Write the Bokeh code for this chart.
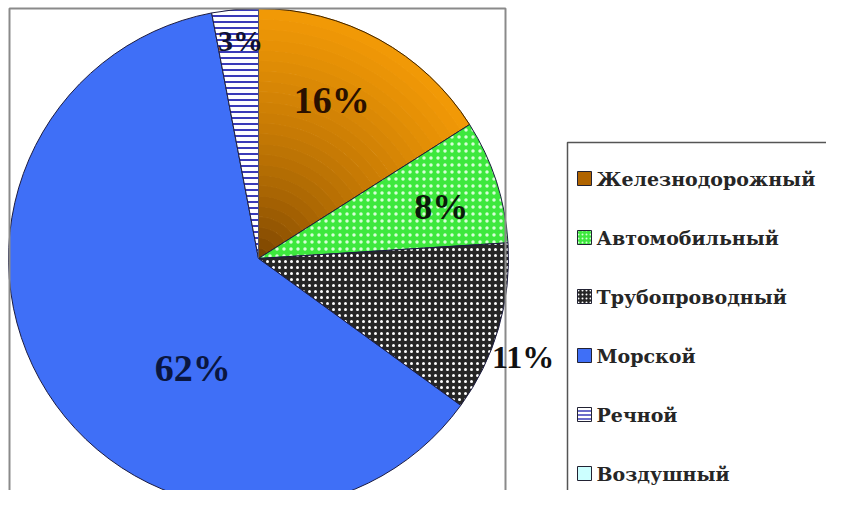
import numpy as np
from bokeh.plotting import figure
from bokeh.models import Range1d
from bokeh.embed import file_html
from bokeh.resources import INLINE
from bokeh.core.properties import value

# ---- data ----
categories = ["Железнодорожный", "Автомобильный", "Трубопроводный", "Морской", "Речной", "Воздушный"]
shares = [16, 8, 11, 62, 3, 0]
pct_labels = ["16%", "8%", "11%", "62%", "3%", ""]

# ---- styles ----
fill_colors = ["#E08A00", "#3DE83D", "#262626", "#3F6FF7", "#FFFFFF", "#CCFFFF"]
hatch_patterns = [" ", "dot", "dot", " ", "horizontal_line", " "]
hatch_colors = ["#000000", "#D6FFD6", "#FFFFFF", "#000000", "#3A3AB8", "#000000"]
hatch_scales = [6, 7, 6, 6, 6, 6]
hatch_weights = [1, 4, 2.5, 1, 2, 1]
label_colors = ["#2A1000", "#0A1A0A", "#111111", "#0A1640", "#101030", "#000000"]
label_sizes = ["38px", "36px", "32px", "38px", "30px", "30px"]
# label placement: radius factor and angle offset (deg) relative to slice middle
label_rf = [0.70, 0.76, 1.13, 0.51, 0.875, 0.0]
label_doff = [-4.1, 2.2, 4.3, -26.6, 0.7, 0.0]

W, H = 826, 490
CX, CY, R = 258, 232, 250
FONT = value("Liberation Serif")
LEG_FONT = value("DejaVu Serif")

p = figure(width=W, height=H, output_backend="svg", toolbar_location=None,
           x_range=Range1d(0, W), y_range=Range1d(0, H), min_border=0)
p.axis.visible = False
p.grid.visible = False
p.outline_line_color = None
p.background_fill_color = "white"
p.border_fill_color = "white"

cum = np.concatenate([[0], np.cumsum(shares)]) / 100.0
starts = np.pi / 2 - 2 * np.pi * cum[:-1]
ends = np.pi / 2 - 2 * np.pi * cum[1:]

def lerp_hex(c1, c2, t):
    a = [int(c1[i:i + 2], 16) for i in (1, 3, 5)]
    b = [int(c2[i:i + 2], 16) for i in (1, 3, 5)]
    return "#%02x%02x%02x" % tuple(int(round(a[k] + (b[k] - a[k]) * t)) for k in range(3))

for i in range(len(categories)):
    if shares[i] == 0:
        # zero-size slice: only its boundary line is visible
        p.segment(x0=[CX], y0=[CY], x1=[CX + R * np.cos(starts[i])], y1=[CY + R * np.sin(starts[i])],
                  line_color="#555566", line_width=1)
        continue
    if i == 0:
        # gradient orange-brown slice, drawn in radial bands
        N = 24
        for k in range(N):
            t = ((k + 0.5) / N) ** 0.6
            col = lerp_hex("#6A3800", "#F39A06", t)
            p.annular_wedge(x=CX, y=CY, inner_radius=R * k / N, outer_radius=R * (k + 1) / N,
                            start_angle=starts[i], end_angle=ends[i], direction="clock",
                            fill_color=col, line_color=col, line_width=1)
        p.wedge(x=CX, y=CY, radius=R, start_angle=starts[i], end_angle=ends[i],
                direction="clock", fill_color=None, line_color="#3a2000", line_width=1)
    else:
        p.wedge(x=CX, y=CY, radius=R, start_angle=starts[i], end_angle=ends[i],
                direction="clock", fill_color=fill_colors[i],
                hatch_pattern=hatch_patterns[i], hatch_color=hatch_colors[i],
                hatch_scale=hatch_scales[i], hatch_weight=hatch_weights[i],
                line_color="#1c1c40", line_width=1)

# plot-area frame
p.quad(left=[9], right=[505], top=[482], bottom=[-20], fill_color=None,
       line_color="#8a8a8a", line_width=2)

# percentage labels
for i in range(len(categories)):
    if not pct_labels[i]:
        continue
    mid = (cum[i] + cum[i + 1]) / 2 * 360 + label_doff[i]
    th = np.deg2rad(mid)
    r = R * label_rf[i]
    p.text(x=[CX + r * np.sin(th)], y=[CY + r * np.cos(th)], text=[pct_labels[i]],
           text_font=FONT, text_font_style="bold", text_font_size=label_sizes[i],
           text_align="center", text_baseline="middle", text_color=label_colors[i])

# legend box
p.quad(left=[567], right=[1000], top=[348], bottom=[-20], fill_color=None,
       line_color="#555555", line_width=1.5)

leg_y0, leg_dy = 312, 59
leg_fills = ["#B06400", "#3DE83D", "#262626", "#3F6FF7", "#FFFFFF", "#CCFFFF"]
for i, name in enumerate(categories):
    y = leg_y0 - leg_dy * i
    p.scatter(x=[584], y=[y], marker="square", size=14, fill_color=leg_fills[i],
              hatch_pattern=hatch_patterns[i], hatch_color=hatch_colors[i],
              hatch_scale=4, hatch_weight=2 if i != 4 else 1.5,
              line_color="#222233", line_width=1)
    p.text(x=[596], y=[y], text=[name], text_font=LEG_FONT, text_font_style="bold",
           text_font_size="19px", text_align="left", text_baseline="middle",
           text_color="#262626")

open("out.html", "w").write(file_html(p, INLINE))
